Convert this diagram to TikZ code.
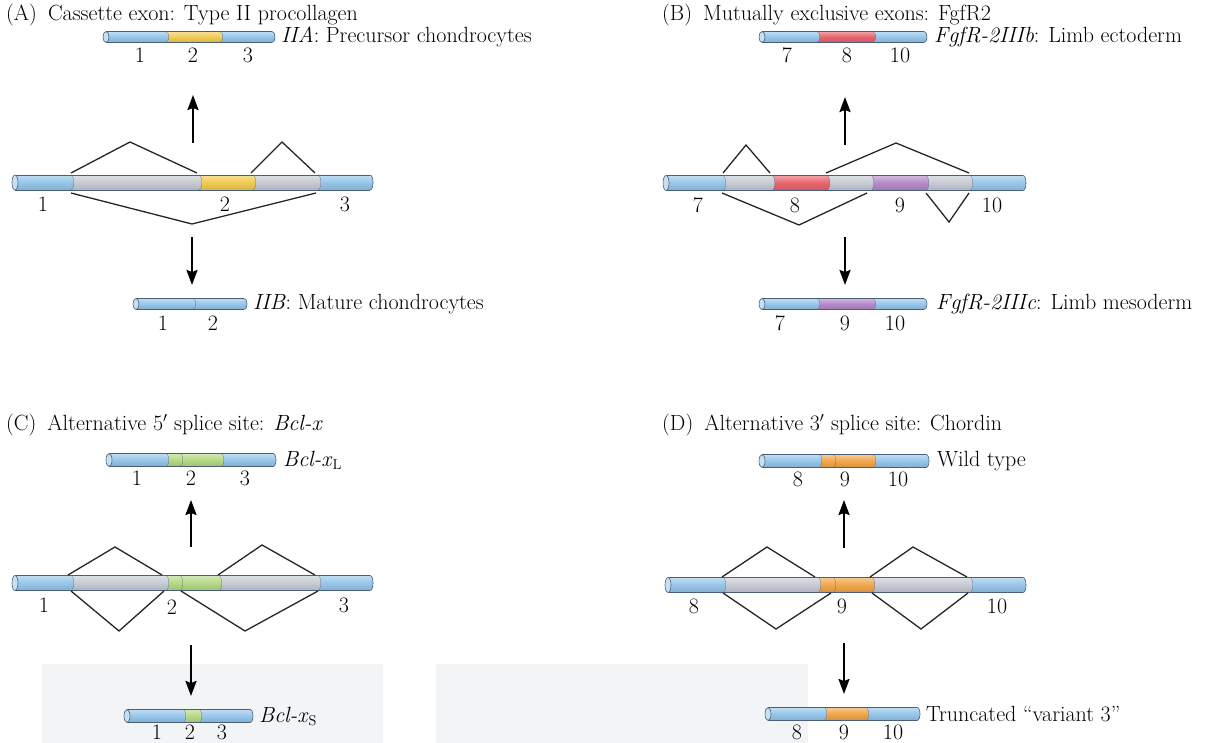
\documentclass[tikz,border=0pt]{standalone}
\usetikzlibrary{arrows.meta}

\definecolor{exblue}{HTML}{96C6EA}
\definecolor{intgrey}{HTML}{C6CAD3}
\definecolor{exyellow}{HTML}{F2CB52}
\definecolor{exred}{HTML}{E8646C}
\definecolor{expurple}{HTML}{B48AC9}
\definecolor{exgreen}{HTML}{B5D985}
\definecolor{exorange}{HTML}{F0A64A}
\definecolor{tubeline}{HTML}{4A5F78}
\definecolor{panelshade}{HTML}{F3F4F5}

% A transcript drawn as a tube: start x, centre y, half height,
% then a list of segment end/colour pairs.
\newcommand{\tube}[4]{%
  \xdef\tubeprev{#1}%
  \foreach \tubeend/\tubecol in {#4}{%
    \shade[top color=\tubecol!60!white, bottom color=\tubecol!88!black, middle color=\tubecol]
      (\tubeprev,#2-#3) -- (\tubeend,#2-#3)
      .. controls (\tubeend+4,#2-#3) and (\tubeend+4,#2+#3) .. (\tubeend,#2+#3)
      -- (\tubeprev,#2+#3)
      .. controls (\tubeprev+4,#2+#3) and (\tubeprev+4,#2-#3) .. (\tubeprev,#2-#3) -- cycle;
    \draw[tubeline, line width=0.6pt]
      (\tubeend,#2-#3) .. controls (\tubeend+4,#2-#3) and (\tubeend+4,#2+#3) .. (\tubeend,#2+#3);
    \xdef\tubeprev{\tubeend}%
  }%
  \draw[tubeline, line width=0.6pt] (#1,#2-#3) -- (\tubeprev,#2-#3) (#1,#2+#3) -- (\tubeprev,#2+#3);
  \draw[tubeline, line width=0.6pt, fill=exblue!55!white] (#1,#2) ellipse [x radius=3, y radius=#3];
}

\tikzset{
  txt/.style={font=\fontsize{22}{26}\selectfont, inner sep=0pt},
  heading/.style={txt, anchor=west},
  tag/.style={txt, anchor=west},
  num/.style={txt},
  splice/.style={line width=1.3pt, black!85, line join=miter},
  flow/.style={line width=2.2pt, black, -{Stealth[length=15pt,width=11pt,inset=2pt]}},
}

\begin{document}
\begin{tikzpicture}[x=1pt,y=-1pt]
\fill[white] (0,0) rectangle (1206,743);
\useasboundingbox (0,0) rectangle (1206,743);

% pale panels along the lower edge
\fill[panelshade] (42,664) rectangle (383,743);
\fill[panelshade] (436,664) rectangle (808,743);

% ---------------- (A) cassette exon ----------------
\node[heading] (Ah) at (6,15) {(A)\enspace Cassette exon: Type II procollagen};
\tube{106}{37}{5.5}{166/exblue,220/exyellow,272/exblue}
\node[tag] (Atop) at (281,37) {\textit{IIA}: Precursor chondrocytes};
\node[num] (At1) at (140,55) {1};
\node[num] (At2) at (193,55) {2};
\node[num] (At3) at (248,55) {3};
\coordinate (Aup0) at (193,143); \coordinate (Aup1) at (193,95);
\draw[flow] (Aup0) -- (Aup1);
\tube{15}{182.5}{7.5}{71/exblue,199/intgrey,253/exyellow,318/intgrey,370/exblue}
\coordinate (Au1) at (71,173);  \coordinate (Au2) at (130,142); \coordinate (Au3) at (197,173);
\coordinate (Au4) at (251,173); \coordinate (Au5) at (282,142); \coordinate (Au6) at (315,173);
\coordinate (Al1) at (71,193);  \coordinate (Al2) at (192,224); \coordinate (Al3) at (316,193);
\draw[splice] (Au1) -- (Au2) -- (Au3);
\draw[splice] (Au4) -- (Au5) -- (Au6);
\draw[splice] (Al1) -- (Al2) -- (Al3);
\node[num] (Ap1) at (43,204) {1};
\node[num] (Ap2) at (225,204) {2};
\node[num] (Ap3) at (345,204) {3};
\coordinate (Adn0) at (192,237); \coordinate (Adn1) at (192,285);
\draw[flow] (Adn0) -- (Adn1);
\tube{136}{304}{5.5}{193/exblue,244/exblue}
\node[tag] (Abot) at (253,304) {\textit{IIB}: Mature chondrocytes};
\node[num] (Ab1) at (163,323) {1};
\node[num] (Ab2) at (213,323) {2};

% ---------------- (B) mutually exclusive exons ----------------
\node[heading] (Bh) at (662,15) {(B)\enspace Mutually exclusive exons: FgfR2};
\tube{762}{37}{5.5}{817/exblue,873/exred,924/exblue}
\node[tag] (Btop) at (934,37) {\textit{FgfR-2IIIb}: Limb ectoderm};
\node[num] (Bt1) at (787,55) {7};
\node[num] (Bt2) at (847,55) {8};
\node[num] (Bt3) at (900,55) {10};
\coordinate (Bup0) at (845,145); \coordinate (Bup1) at (845,97);
\draw[flow] (Bup0) -- (Bup1);
\tube{666}{183}{7.5}{723/exblue,772/intgrey,827/exred,871/intgrey,926/expurple,970/intgrey,1023/exblue}
\coordinate (Bu1) at (723,173); \coordinate (Bu2) at (746,145); \coordinate (Bu3) at (770,173);
\coordinate (Bu4) at (826,173); \coordinate (Bu5) at (896,143); \coordinate (Bu6) at (969,173);
\coordinate (Bl1) at (722,193); \coordinate (Bl2) at (799,225); \coordinate (Bl3) at (867,193);
\coordinate (Bl4) at (926,193); \coordinate (Bl5) at (949,222); \coordinate (Bl6) at (969,193);
\draw[splice] (Bu1) -- (Bu2) -- (Bu3);
\draw[splice] (Bu4) -- (Bu5) -- (Bu6);
\draw[splice] (Bl1) -- (Bl2) -- (Bl3);
\draw[splice] (Bl4) -- (Bl5) -- (Bl6);
\node[num] (Bp1) at (698,205) {7};
\node[num] (Bp2) at (795,205) {8};
\node[num] (Bp3) at (900,205) {9};
\node[num] (Bp4) at (992,205) {10};
\coordinate (Bdn0) at (845,237); \coordinate (Bdn1) at (845,285);
\draw[flow] (Bdn0) -- (Bdn1);
\tube{762}{304}{5.5}{817/exblue,873/expurple,924/exblue}
\node[tag] (Bbot) at (936,304) {\textit{FgfR-2IIIc}: Limb mesoderm};
\node[num] (Bb1) at (780,323) {7};
\node[num] (Bb2) at (845,323) {9};
\node[num] (Bb3) at (895,323) {10};

% ---------------- (C) alternative 5' splice site ----------------
\node[heading] (Ch) at (6,425) {(C)\enspace Alternative 5$'$ splice site: \textit{Bcl-x}};
\tube{109}{460}{6.5}{166/exblue,180/exgreen,221/exgreen,273/exblue}
\node[tag] (Ctop) at (283,460) {\textit{Bcl-x}$_{\mathrm{L}}$};
\node[num] (Ct1) at (137,478) {1};
\node[num] (Ct2) at (191,478) {2};
\node[num] (Ct3) at (245,478) {3};
\coordinate (Cup0) at (191,547); \coordinate (Cup1) at (191,500);
\draw[flow] (Cup0) -- (Cup1);
\tube{15}{583}{7.5}{71/exblue,166/intgrey,180/exgreen,219/exgreen,318/intgrey,370/exblue}
\coordinate (Cu1) at (68,575);  \coordinate (Cu2) at (115,547); \coordinate (Cu3) at (162,575);
\coordinate (Cu4) at (218,575); \coordinate (Cu5) at (262,545); \coordinate (Cu6) at (315,575);
\coordinate (Cl1) at (71,591);  \coordinate (Cl2) at (119,631); \coordinate (Cl3) at (164,591);
\coordinate (Cl4) at (181,591); \coordinate (Cl5) at (245,631); \coordinate (Cl6) at (318,591);
\draw[splice] (Cu1) -- (Cu2) -- (Cu3);
\draw[splice] (Cu4) -- (Cu5) -- (Cu6);
\draw[splice] (Cl1) -- (Cl2) -- (Cl3);
\draw[splice] (Cl4) -- (Cl5) -- (Cl6);
\node[num] (Cp1) at (44,605) {1};
\node[num] (Cp2) at (172,607) {2};
\node[num] (Cp3) at (344,605) {3};
\coordinate (Cdn0) at (191,645); \coordinate (Cdn1) at (191,696);
\draw[flow] (Cdn0) -- (Cdn1);
\tube{127}{716}{6.5}{183/exblue,199/exgreen,250/exblue}
\node[tag] (Cbot) at (259,716) {\textit{Bcl-x}$_{\mathrm{S}}$};
\node[num] (Cb1) at (157,732) {1};
\node[num] (Cb2) at (190,732) {2};
\node[num] (Cb3) at (222,732) {3};

% ---------------- (D) alternative 3' splice site ----------------
\node[heading] (Dh) at (662,425) {(D)\enspace Alternative 3$'$ splice site: Chordin};
\tube{762}{461}{6.5}{819/exblue,833/exorange,873/exorange,926/exblue}
\node[tag] (Dtop) at (937,461) {Wild type};
\node[num] (Dt1) at (798,479) {8};
\node[num] (Dt2) at (845,479) {9};
\node[num] (Dt3) at (898,479) {10};
\coordinate (Dup0) at (844,548); \coordinate (Dup1) at (844,500);
\draw[flow] (Dup0) -- (Dup1);
\tube{668}{585}{7.5}{723/exblue,818/intgrey,833/exorange,872/exorange,970/intgrey,1023/exblue}
\coordinate (Du1) at (722,577); \coordinate (Du2) at (767,547); \coordinate (Du3) at (815,577);
\coordinate (Du4) at (870,577); \coordinate (Du5) at (913,547); \coordinate (Du6) at (967,577);
\coordinate (Dl1) at (723,593); \coordinate (Dl2) at (776,629); \coordinate (Dl3) at (831,593);
\coordinate (Dl4) at (872,593); \coordinate (Dl5) at (921,629); \coordinate (Dl6) at (968,593);
\draw[splice] (Du1) -- (Du2) -- (Du3);
\draw[splice] (Du4) -- (Du5) -- (Du6);
\draw[splice] (Dl1) -- (Dl2) -- (Dl3);
\draw[splice] (Dl4) -- (Dl5) -- (Dl6);
\node[num] (Dp1) at (694,606) {8};
\node[num] (Dp2) at (842,606) {9};
\node[num] (Dp3) at (997,606) {10};
\coordinate (Ddn0) at (844,643); \coordinate (Ddn1) at (844,694);
\draw[flow] (Ddn0) -- (Ddn1);
\tube{768}{714}{6.5}{824/exblue,866/exorange,917/exblue}
\node[tag] (Dbot) at (926,714) {Truncated ``variant 3''};
\node[num] (Db1) at (797,732) {8};
\node[num] (Db2) at (844,732) {9};
\node[num] (Db3) at (893,732) {10};
\end{tikzpicture}
\end{document}
